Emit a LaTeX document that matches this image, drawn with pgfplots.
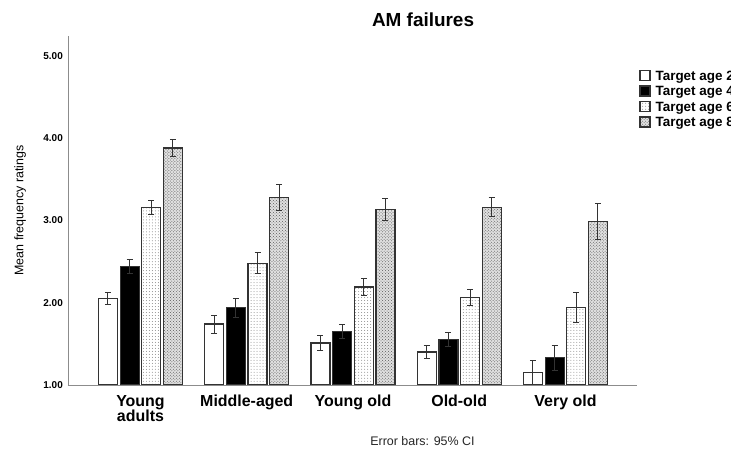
\documentclass[border=0pt]{standalone}
\usepackage{fontspec}
\setmainfont{Liberation Sans}
\usepackage{pgfplots}
\pgfplotsset{compat=1.18}
\usetikzlibrary{patterns}

\definecolor{barline}{HTML}{333333}
\definecolor{axgray}{HTML}{8C8C8C}
\definecolor{dotgray}{HTML}{8A8A8A}
\definecolor{densegray}{HTML}{5A5A5A}

\begin{document}
\begin{tikzpicture}
\begin{axis}[
  name=ax,
  scale only axis,
  width=569bp, height=349bp,
  ybar, bar width=19bp,
  xmin=-0.682, xmax=4.673,
  ymin=1, ymax=5.24,
  axis x line=bottom, axis y line=left,
  axis line style={-, axgray, line width=0.8bp},
  major tick length=0pt,
  xtick={0,...,4},
  xticklabels={{Young\\adults},Middle-aged,Young old,Old-old,Very old},
  ytick={1,2,3,4,5},
  /pgf/number format/fixed,
  /pgf/number format/fixed zerofill,
  /pgf/number format/precision=2,
  /pgf/number format/assume math mode=true,
  yticklabel style={font=\bfseries\fontsize{10}{12}\selectfont, inner sep=0pt, xshift=-5bp},
  xticklabel style={font=\bfseries\fontsize{16}{15}\selectfont, align=center, inner sep=0pt, yshift=-10bp},
  ylabel={Mean frequency ratings},
  ylabel style={font=\fontsize{12.5}{14}\selectfont, at={(axis description cs:-0.084,0.5)}, anchor=center},
  title={AM failures},
  title style={font=\bfseries\fontsize{19}{22}\selectfont, at={(axis description cs:0.624,1.0115)}, anchor=base},
  legend style={at={(axis description cs:1.004,0.906)}, anchor=north west, draw=none, fill=none,
    inner sep=0pt, font=\bfseries\fontsize{13.5}{15}\selectfont, row sep=0.5bp,
    nodes={inner sep=1bp, text height=10bp, text depth=3bp},
    /tikz/every odd column/.style={column sep=4bp}},
  legend cell align=left,
  legend image code/.code={\draw[#1, line width=1.1bp] (0bp,-4bp) rectangle (10bp,6bp);},
  every axis plot/.append style={draw=barline, line width=1.2bp,
    error bars/y dir=both, error bars/y explicit,
    error bars/error bar style={barline, line width=1bp},
    error bars/error mark options={barline, line width=1bp, mark size=3bp, rotate=90}},
]

% Target age 20
\addplot[fill=white, bar shift=-32.5bp] coordinates {
  (0,2.05) +- (0,0.075)
  (1,1.74) +- (0,0.11)
  (2,1.51) +- (0,0.09)
  (3,1.40) +- (0,0.08)
  (4,1.15) +- (0,0.15)
};
% Target age 40
\addplot[fill=black, bar shift=-10.8bp] coordinates {
  (0,2.44) +- (0,0.08)
  (1,1.94) +- (0,0.115)
  (2,1.65) +- (0,0.09)
  (3,1.55) +- (0,0.085)
  (4,1.33) +- (0,0.15)
};
% Target age 60
\addplot[pattern=dots, pattern color=dotgray, bar shift=10.8bp] coordinates {
  (0,3.16) +- (0,0.085)
  (1,2.48) +- (0,0.13)
  (2,2.19) +- (0,0.105)
  (3,2.06) +- (0,0.095)
  (4,1.94) +- (0,0.18)
};
% Target age 80
\addplot[fill=black!12, postaction={pattern=crosshatch dots, pattern color=densegray}, bar shift=32.5bp] coordinates {
  (0,3.88) +- (0,0.10)
  (1,3.28) +- (0,0.16)
  (2,3.13) +- (0,0.135)
  (3,3.16) +- (0,0.115)
  (4,2.99) +- (0,0.22)
};
\legend{Target age 20, Target age 40, Target age 60, Target age 80}
\end{axis}
\path (ax.south west) ++(354.5bp,-55.7bp) node[font=\fontsize{12.5}{14}\selectfont, text=black!85] {Error bars: 95\% CI};
\pgfresetboundingbox
\path (ax.south west) ++(-68bp,-65bp) rectangle ++(731bp,450bp);
\end{tikzpicture}
\end{document}
